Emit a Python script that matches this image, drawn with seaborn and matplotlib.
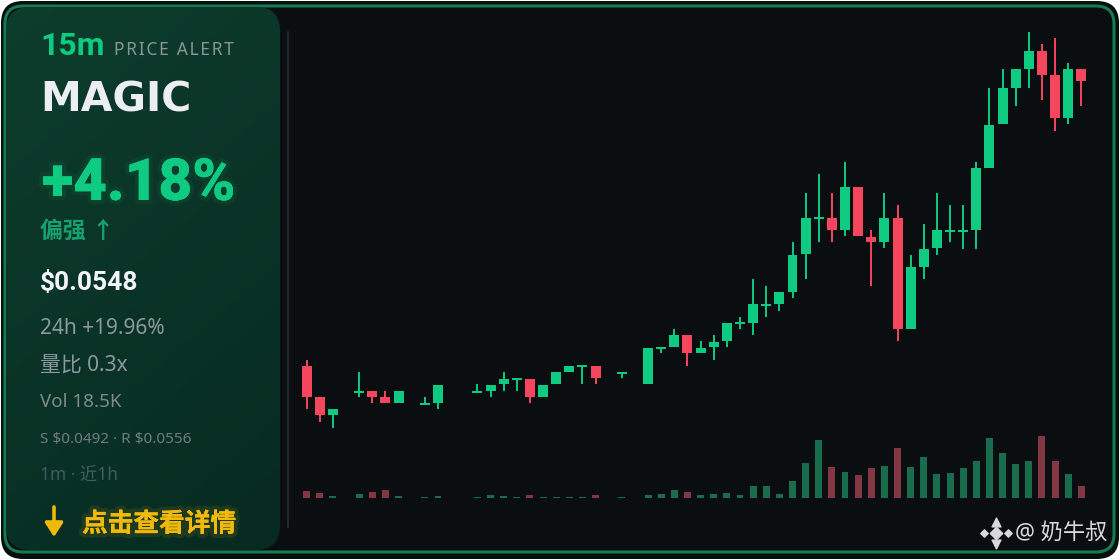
import numpy as np
import pandas as pd
import seaborn as sns
import matplotlib.pyplot as plt
import matplotlib.patheffects as pe
from matplotlib.patches import FancyBboxPatch

nan = np.nan

# 15m candles for MAGIC (nan = empty slot)
opens = [0.05195, 0.051637, 0.051457, nan, 0.05169, 0.0517, 0.05164, 0.051583, nan, 0.051568,
         0.051583, nan, nan, 0.051693, 0.051703, 0.051767, 0.051817, 0.05182, 0.051643, 0.051767,
         0.051887, 0.051947, 0.05195, nan, 0.05188, nan, 0.051767, 0.052127, 0.052137, 0.052257,
         0.052077, 0.052137, 0.0522, 0.052375, 0.052383, 0.052557, 0.05257, 0.052693, 0.053067, 0.053425,
         0.053433, 0.05331, 0.053743, 0.053243, 0.053193, 0.053433, 0.05232, 0.052943, 0.053127, 0.0533,
         0.0533, 0.05331, 0.053933, 0.054367, 0.054733, 0.05492, 0.055103, 0.05486, 0.054427, 0.05492]
highs = [0.05201, 0.051637, 0.051517, nan, 0.051887, 0.0517, 0.0517, 0.0517, nan, 0.051643,
         0.05176, nan, nan, 0.051767, 0.05176, 0.051887, 0.05182, 0.05182, 0.05176, 0.051887,
         0.05195, 0.05195, 0.05195, nan, 0.051883, nan, 0.052133, 0.05213, 0.05232, 0.052257,
         0.0522, 0.05226, 0.052383, 0.052443, 0.052817, 0.052753, 0.052693, 0.053187, 0.053683, 0.053867,
         0.053683, 0.05399, 0.053743, 0.05331, 0.053683, 0.05356, 0.05306, 0.05337, 0.053683, 0.05356,
         0.05356, 0.053987, 0.054733, 0.05492, 0.05492, 0.05529, 0.05517, 0.055227, 0.054983, 0.05492]
lows = [0.05152, 0.051393, 0.051333, nan, 0.051643, 0.051583, 0.051583, 0.051583, nan, 0.051568,
        0.051517, nan, nan, 0.051693, 0.051643, 0.051703, 0.051703, 0.051583, 0.051643, 0.051767,
        0.051887, 0.051767, 0.051767, nan, 0.051827, nan, 0.051767, 0.052077, 0.052137, 0.05195,
        0.052077, 0.05201, 0.052137, 0.05232, 0.05226, 0.052443, 0.052503, 0.052633, 0.052817, 0.053187,
        0.053187, 0.05325, 0.05325, 0.052753, 0.053127, 0.0522, 0.05232, 0.052817, 0.05306, 0.053187,
        0.053123, 0.053123, 0.053933, 0.054367, 0.05455, 0.054733, 0.05461, 0.054303, 0.054367, 0.05455]
closes = [0.051643, 0.05146, 0.051517, nan, 0.051695, 0.051643, 0.051583, 0.0517, nan, 0.051572,
          0.05176, nan, nan, 0.051697, 0.05176, 0.05182, 0.05182, 0.051643, 0.05176, 0.051887,
          0.05195, 0.05195, 0.051827, nan, 0.051883, nan, 0.052133, 0.05213, 0.052257, 0.052077,
          0.052133, 0.052193, 0.052383, 0.05238, 0.052567, 0.05256, 0.052693, 0.05306, 0.053433, 0.05343,
          0.05331, 0.053743, 0.05325, 0.053187, 0.053433, 0.05232, 0.052937, 0.053123, 0.05331, 0.053305,
          0.053305, 0.05393, 0.05436, 0.054733, 0.05492, 0.055103, 0.05486, 0.054427, 0.05492, 0.0548]
# volume in K
volumes = [10.8, 7.2, 3.5, nan, 6.2, 8.8, 11.9, 3.1, nan, 1.5,
           3.1, nan, nan, 1.5, 4.2, 3.5, 1.5, 4.2, 1.5, 1.5,
           1.5, 1.5, 4.6, nan, 2.0, nan, 4.6, 6.2, 12.3, 9.2,
           4.6, 6.2, 7.7, 4.2, 18.9, 18.5, 6.2, 26.2, 54.4, 89.3,
           47.3, 40.5, 35.0, 45.7, 49.3, 77.0, 47.7, 63.1, 37.4, 38.5,
           45.7, 57.4, 92.4, 68.8, 52.4, 57.0, 95.5, 57.0, 37.4, 18.5]

symbol = "MAGIC"
interval = "15m"
change_txt = "+4.18%"
bias_txt = "偏强 ↑"
price_txt = "$0.0548"
info_lines = ["24h +19.96%", "量比 0.3x", "Vol 18.5K", "S $0.0492 · R $0.0556", "1m · 近1h"]
cta_txt = "点击查看详情"
watermark = "@ 奶牛叔"

GREEN = "#0ecb81"
RED = "#f6465d"
VGREEN = "#0b7a4f"
VRED = "#8e2a3b"
YELLOW = "#f0b90b"
BG = "#0a0e11"

df = pd.DataFrame({"o": opens, "h": highs, "l": lows, "c": closes, "vol": volumes})
df["idx"] = np.arange(len(df))
df = df.dropna()
df["up"] = df["c"] >= df["o"]
df["dir"] = np.where(df["up"], "up", "down")

sns.set_theme(style="dark")
plt.rcParams["font.family"] = ["Noto Sans", "Noto Sans CJK SC", "DejaVu Sans"]
plt.rcParams["text.parse_math"] = False
BOLD = ["Roboto", "Noto Sans CJK SC", "DejaVu Sans"]

fig = plt.figure(figsize=(11.2, 5.6), dpi=100, facecolor="white")

# background card drawn in pixel coordinates
bg = fig.add_axes([0, 0, 1, 1])
bg.set_xlim(0, 1120)
bg.set_ylim(560, 0)
bg.axis("off")
bg.add_patch(FancyBboxPatch((1, 1), 1118, 558, boxstyle="round,pad=0,rounding_size=22",
                            fc="#06110d", ec="none"))
bg.add_patch(FancyBboxPatch((5, 6), 1109, 546, boxstyle="round,pad=0,rounding_size=18",
                            fc=BG, ec="#177a50", lw=2.2))

# left panel with gradient
panel = FancyBboxPatch((6, 7), 274, 543, boxstyle="round,pad=0,rounding_size=24",
                       fc="none", ec="none")
bg.add_patch(panel)
grad = np.linspace(0, 1, 256).reshape(-1, 1)
gx = np.linspace(0, 1, 64).reshape(1, -1)
g = grad * 0.7 + gx * 0.3
img = bg.imshow(g, extent=(6, 280, 550, 7), cmap=sns.blend_palette(["#0d3d2d", "#072a20"], as_cmap=True),
                aspect="auto", zorder=1)
img.set_clip_path(panel)
bg.set_xlim(0, 1120)
bg.set_ylim(560, 0)

bg.plot([288, 288], [32, 527], color="#262d31", lw=1.2)

# texts
bg.text(40, 55, interval, color=GREEN, fontsize=23, fontweight="bold", family=BOLD,
        va="baseline", zorder=3)
bg.text(114, 55, "\u200a".join("PRICE ALERT"), color="#8a949a", fontsize=12.5, va="baseline", zorder=3)
bg.text(40, 112, symbol, color="#eceef2", fontsize=29.5, fontweight="bold", family="DejaVu Sans",
        va="baseline", zorder=3)
bg.text(42, 200, change_txt, color=GREEN, fontsize=42, fontweight="heavy", family=BOLD,
        va="baseline", zorder=3,
        path_effects=[pe.withStroke(linewidth=6, foreground=(0.05, 0.8, 0.5, 0.07)), pe.Normal()])
bg.text(40, 232, bias_txt, color="#17a06e", fontsize=16.5, fontweight="bold", va="center", zorder=3)
bg.text(40, 283, price_txt, color="#f2f4f6", fontsize=19, fontweight="bold", family=BOLD,
        va="center", zorder=3)
bg.text(40, 329, info_lines[0], color="#8c98a0", fontsize=15, va="center", zorder=3)
bg.text(40, 366, info_lines[1], color="#8c98a0", fontsize=15, va="center", zorder=3)
bg.text(40, 402, info_lines[2], color="#7d8a92", fontsize=13.5, va="center", zorder=3)
bg.text(40, 439, info_lines[3], color="#6e7c85", fontsize=11, va="center", zorder=3)
bg.text(40, 476, info_lines[4], color="#3f5c60", fontsize=12.5, va="center", zorder=3)
glow_y = [pe.withStroke(linewidth=6, foreground=(0.94, 0.72, 0.04, 0.1)), pe.Normal()]
bg.annotate("", xy=(54, 537), xytext=(54, 507), zorder=3,
            arrowprops=dict(arrowstyle="-|>,head_length=0.7,head_width=0.45", color=YELLOW,
                            lw=2.6, shrinkA=0, shrinkB=0))
bg.text(82, 525, cta_txt, color=YELLOW, fontsize=18.5, fontweight="bold", va="center", zorder=3,
        path_effects=glow_y)

# watermark with a small diamond logo
bg.scatter([996], [533], marker="D", s=40, color="#d9d9d9", zorder=3)
bg.scatter([984, 1008], [533, 533], marker="D", s=14, color="#d9d9d9", zorder=3)
bg.scatter([996], [522], marker="^", s=40, color="#d9d9d9", zorder=3)
bg.scatter([996], [544], marker="v", s=40, color="#d9d9d9", zorder=3)
bg.text(1015, 533, watermark, color="#d9d9d9", fontsize=16, va="center", zorder=3)

# price axes
xlim = (-1.272, 60.42)
ax = fig.add_axes([290 / 1120, 120 / 560, 810 / 1120, 420 / 560])
ax.set_facecolor("none")
wick_colors = np.where(df["up"], GREEN, RED)
ax.vlines(df["idx"], df["l"], df["h"], colors=wick_colors, lw=1.4)
body_h = np.maximum((df["c"] - df["o"]).abs(), 0.00002)
body_b = np.minimum(df["o"], df["c"]) - (body_h - (df["c"] - df["o"]).abs()) / 2
ax.bar(df["idx"], body_h, bottom=body_b, width=0.76, color=wick_colors, linewidth=0)
ax.set_xlim(*xlim)
ax.set_ylim(0.05121, 0.05541)
ax.axis("off")

# volume axes
axv = fig.add_axes([290 / 1120, 62 / 560, 810 / 1120, 68 / 560])
axv.set_facecolor("none")
sns.barplot(data=df, x="idx", y="vol", hue="dir", palette={"up": VGREEN, "down": VRED},
            native_scale=True, dodge=False, width=0.53, legend=False, ax=axv, linewidth=0)
axv.set_xlim(*xlim)
axv.set_ylim(0, 104.7)
axv.axis("off")

fig.savefig("out.png", dpi=100, facecolor="white")
